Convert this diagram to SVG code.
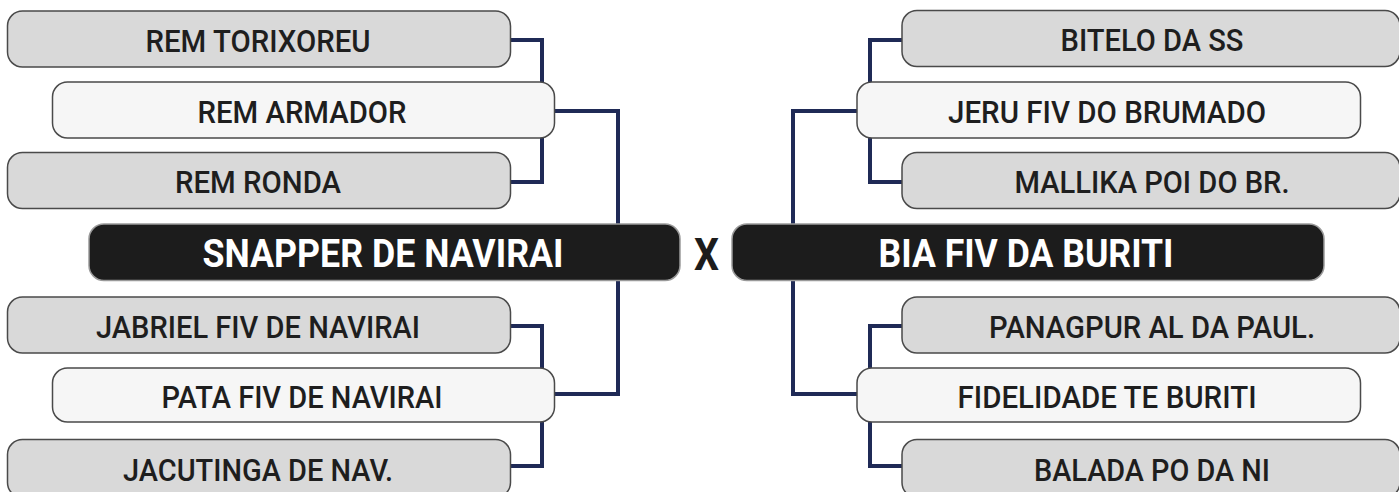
<svg xmlns="http://www.w3.org/2000/svg" width="1399" height="492" viewBox="0 0 1399 492">
<style>
.g{fill:#d9d9d9;stroke:#4a4a4a;stroke-width:1.5}
.w{fill:#f6f6f6;stroke:#4a4a4a;stroke-width:1.5}
.b{fill:#1c1c1c;stroke:#9a9a9a;stroke-width:1.5}
.t{font-family:Roboto,"Liberation Sans",sans-serif;font-weight:500;font-size:32px;fill:#1e1e1e;text-anchor:middle}
.tb{font-family:Roboto,"Liberation Sans",sans-serif;font-weight:700;font-size:38px;fill:#ffffff;text-anchor:middle}
.c{fill:none;stroke:#1f2a56;stroke-width:4}
</style>
<rect width="1399" height="492" fill="#ffffff"/>
<g id="connectors">
<path class="c" d="M511,40 H542 V182 H511"/>
<path class="c" d="M555,111 H618 V394 H555"/>
<path class="c" d="M511,326 H542 V466 H511"/>
<path class="c" d="M902,40 H870 V182 H902"/>
<path class="c" d="M857,111 H793 V394 H857"/>
<path class="c" d="M902,326 H870 V466 H902"/>
</g>
<g id="rem-torixoreu"><rect class="g" x="7.5" y="11" width="503" height="56" rx="15"/><text class="t" x="258" y="52" textLength="225" lengthAdjust="spacingAndGlyphs">REM TORIXOREU</text></g>
<g id="rem-armador"><rect class="w" x="52.5" y="82" width="502" height="56" rx="15"/><text class="t" x="302" y="123" textLength="209" lengthAdjust="spacingAndGlyphs">REM ARMADOR</text></g>
<g id="rem-ronda"><rect class="g" x="7.5" y="152.5" width="503" height="56" rx="15"/><text class="t" x="258" y="193" textLength="166" lengthAdjust="spacingAndGlyphs">REM RONDA</text></g>
<g id="snapper"><rect class="b" x="89" y="224" width="591" height="56.5" rx="15"/><text class="tb" x="383" y="267" textLength="361" lengthAdjust="spacingAndGlyphs">SNAPPER DE NAVIRAI</text></g>
<g id="jabriel"><rect class="g" x="7.5" y="297" width="503" height="56" rx="15"/><text class="t" x="258" y="338" textLength="324" lengthAdjust="spacingAndGlyphs">JABRIEL FIV DE NAVIRAI</text></g>
<g id="pata"><rect class="w" x="52.5" y="368" width="502" height="54" rx="15"/><text class="t" x="302" y="408" textLength="281" lengthAdjust="spacingAndGlyphs">PATA FIV DE NAVIRAI</text></g>
<g id="jacutinga"><rect class="g" x="7.5" y="439.5" width="503" height="58" rx="15"/><text class="t" x="258" y="481" textLength="270" lengthAdjust="spacingAndGlyphs">JACUTINGA DE NAV.</text></g>
<g id="versus"><text class="tb" x="706.5" y="270" font-size="45" fill="#1c1c1c" style="fill:#1c1c1c;font-size:45px" textLength="25" lengthAdjust="spacingAndGlyphs">X</text></g>
<g id="bitelo"><rect class="g" x="902" y="10.5" width="498" height="56" rx="15"/><text class="t" x="1152" y="51" textLength="183" lengthAdjust="spacingAndGlyphs">BITELO DA SS</text></g>
<g id="jeru"><rect class="w" x="857" y="82" width="503.5" height="56" rx="15"/><text class="t" x="1107" y="123" textLength="318" lengthAdjust="spacingAndGlyphs">JERU FIV DO BRUMADO</text></g>
<g id="mallika"><rect class="g" x="902" y="152.5" width="498" height="56" rx="15"/><text class="t" x="1152" y="193" textLength="275" lengthAdjust="spacingAndGlyphs">MALLIKA POI DO BR.</text></g>
<g id="bia"><rect class="b" x="732" y="224" width="592" height="56.5" rx="15"/><text class="tb" x="1026" y="267" textLength="295" lengthAdjust="spacingAndGlyphs">BIA FIV DA BURITI</text></g>
<g id="panagpur"><rect class="g" x="902" y="297" width="498" height="56" rx="15"/><text class="t" x="1152" y="338" textLength="326" lengthAdjust="spacingAndGlyphs">PANAGPUR AL DA PAUL.</text></g>
<g id="fidelidade"><rect class="w" x="857" y="368" width="503.5" height="54" rx="15"/><text class="t" x="1107" y="408" textLength="299" lengthAdjust="spacingAndGlyphs">FIDELIDADE TE BURITI</text></g>
<g id="balada"><rect class="g" x="902" y="439.5" width="498" height="58" rx="15"/><text class="t" x="1152" y="481" textLength="236" lengthAdjust="spacingAndGlyphs">BALADA PO DA NI</text></g>
</svg>
